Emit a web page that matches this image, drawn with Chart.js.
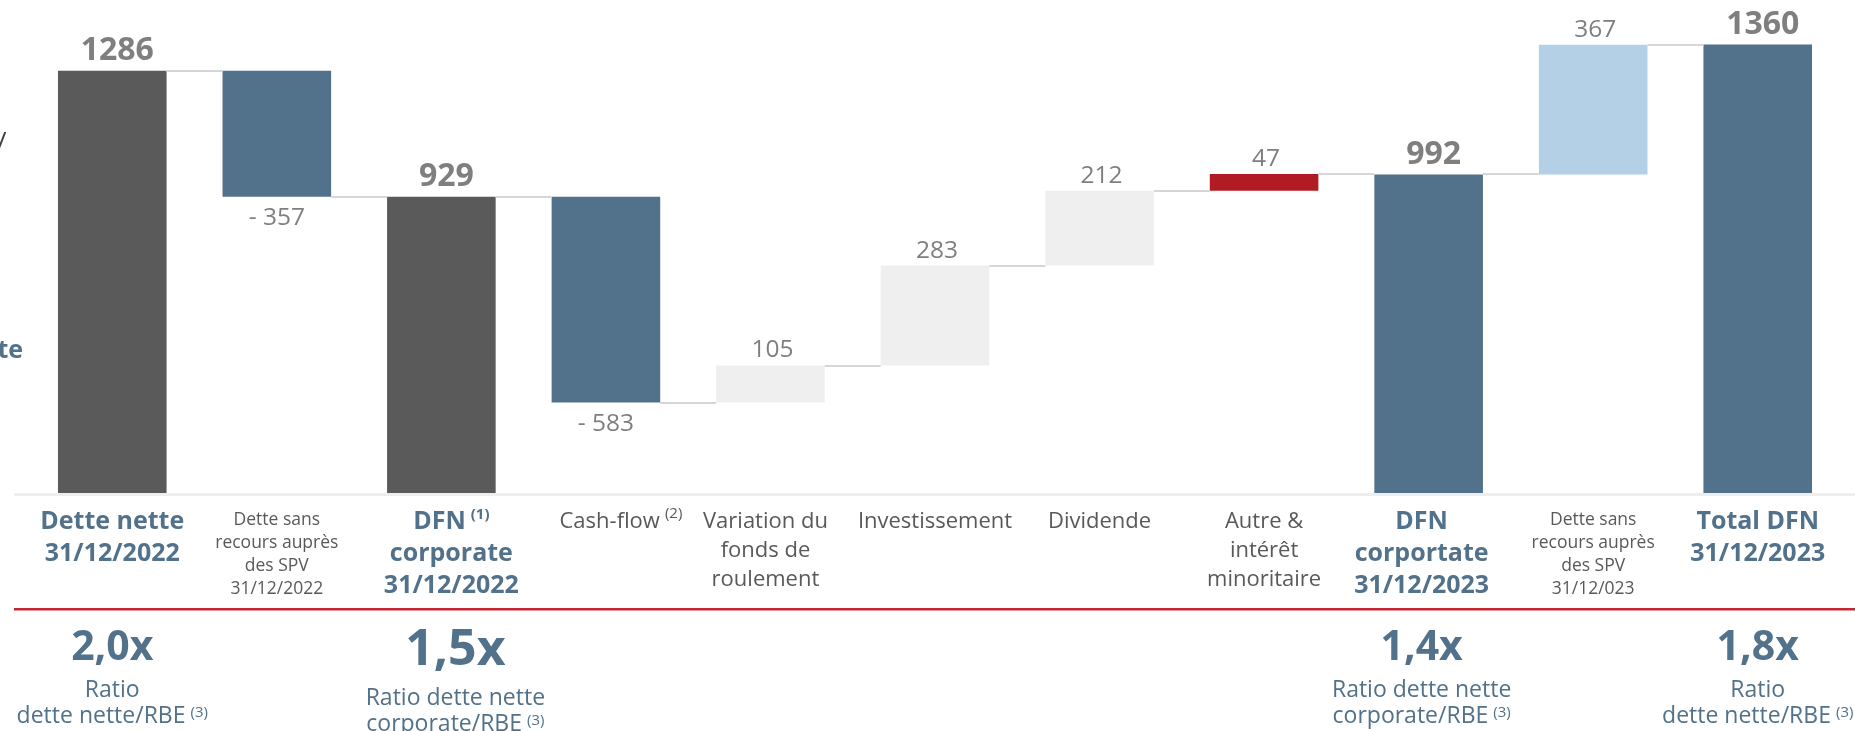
<!DOCTYPE html>
<html>
<head>
<meta charset="utf-8">
<title>Evolution de la dette financière nette</title>
<script src="https://cdn.jsdelivr.net/npm/chart.js@4.4.1/dist/chart.umd.min.js"></script>
<style>
  body { margin: 0; background: #fff; }
  #wrap { width: 1855px; height: 731px; position: relative; }
</style>
</head>
<body>
<div id="wrap"><canvas id="myChart"></canvas></div>
<script>
// data (M€)
const categories = [
  ['Dette nette', '31/12/2022'],
  ['Dette sans', 'recours auprès', 'des SPV', '31/12/2022'],
  ['DFN', 'corporate', '31/12/2022'],
  ['Cash-flow'],
  ['Variation du', 'fonds de', 'roulement'],
  ['Investissement'],
  ['Dividende'],
  ['Autre &', 'intérêt', 'minoritaire'],
  ['DFN', 'corportate', '31/12/2023'],
  ['Dette sans', 'recours auprès', 'des SPV', '31/12/023'],
  ['Total DFN', '31/12/2023']
]
const notes = ['', '', '(1)', '(2)', '', '', '', '', '', '', '']
const values = [1286, -357, 929, -583, 105, 283, 212, 47, 992, 367, 1360]
const totals = [true, false, true, false, false, false, false, false, true, false, true]

const ratioCols = [0, 2, 8, 10]
const ratioValues = ['2,0x', '1,5x', '1,4x', '1,8x']
const ratioLines = [
  ['Ratio', 'dette nette/RBE'],
  ['Ratio dette nette', 'corporate/RBE'],
  ['Ratio dette nette', 'corporate/RBE'],
  ['Ratio', 'dette nette/RBE']
]
const ratioNote = '(3)'

// styles
const barColors = ['#5a5a5a', '#52718a', '#5a5a5a', '#52718a', '#efefef', '#efefef', '#efefef', '#b11c24', '#52718a', '#b3d0e7', '#52718a']
const labelKind = ['bold', 'small', 'bold', 'flow', 'flow', 'flow', 'flow', 'flow', 'bold', 'small', 'bold']
const labelShift = [0, 0, 10, 15, -5, 0, 0, 0, -7, 0, 0]
const ratioShift = [0, 14, -7, 0]
const blue = '#52718a'
const grey = '#595959'
const FONT = '"Open Sans", "Noto Sans", sans-serif'

// build the floating bars of the waterfall
let run = 0
const ranges = []
const levels = []
values.forEach((v, i) => {
  if (totals[i]) {
    ranges.push([0, v])
    run = v
  } else {
    ranges.push([run, run + v])
    run += v
  }
  levels.push(run)
})

function drawLine(ctx, text, note, cx, cy, size, weight, color, noteSize, noteRaise) {
  ctx.font = weight + ' ' + size + 'px ' + FONT
  const w1 = ctx.measureText(text).width
  let w2 = 0
  const gap = note ? 5 : 0
  if (note) {
    ctx.font = weight + ' ' + noteSize + 'px ' + FONT
    w2 = ctx.measureText(note).width
  }
  const start = cx - (w1 + gap + w2) / 2
  ctx.fillStyle = color
  ctx.textAlign = 'left'
  ctx.textBaseline = 'middle'
  ctx.font = weight + ' ' + size + 'px ' + FONT
  ctx.fillText(text, start, cy)
  if (note) {
    ctx.font = weight + ' ' + noteSize + 'px ' + FONT
    ctx.fillText(note, start + w1 + gap, cy - noteRaise)
  }
}

const waterfallDeco = {
  id: 'waterfallDeco',
  afterDatasetsDraw(chart) {
    const ctx = chart.ctx
    const y = chart.scales.y
    const bars = chart.getDatasetMeta(0).data
    ctx.save()

    // axis line
    ctx.fillStyle = '#eeeeee'
    ctx.fillRect(14, chart.chartArea.bottom, chart.width - 14, 3)

    // connectors between bars
    ctx.strokeStyle = '#d6d6d6'
    ctx.lineWidth = 2
    for (let i = 0; i < bars.length - 1; i++) {
      const yy = Math.round(y.getPixelForValue(levels[i]))
      ctx.beginPath()
      ctx.moveTo(bars[i].x + bars[i].width / 2, yy)
      ctx.lineTo(bars[i + 1].x - bars[i + 1].width / 2, yy)
      ctx.stroke()
    }

    // value labels
    ctx.textAlign = 'center'
    ctx.textBaseline = 'middle'
    ctx.fillStyle = '#7f7f7f'
    values.forEach((v, i) => {
      const top = y.getPixelForValue(Math.max(ranges[i][0], ranges[i][1]))
      const bottom = y.getPixelForValue(Math.min(ranges[i][0], ranges[i][1]))
      if (totals[i]) {
        ctx.font = 'bold 32px ' + FONT
        ctx.fillText(String(v), bars[i].x + 5, top - 20)
      } else if (v < 0) {
        ctx.font = '24.5px ' + FONT
        ctx.fillText('- ' + Math.abs(v), bars[i].x, bottom + 21)
      } else {
        ctx.font = '24.5px ' + FONT
        ctx.fillText(String(v), bars[i].x + 2, top - 15)
      }
    })
    ctx.restore()
  },
  afterDraw(chart) {
    const ctx = chart.ctx
    const x = chart.scales.x
    ctx.save()

    // category labels
    categories.forEach((lines, i) => {
      const cx = x.getPixelForValue(i) + labelShift[i]
      const kind = labelKind[i]
      lines.forEach((t, j) => {
        const note = j === 0 ? notes[i] : ''
        if (kind === 'bold') {
          drawLine(ctx, t, note, cx, 522 + j * 32, 25, 'bold', blue, 15, 7)
        } else if (kind === 'small') {
          drawLine(ctx, t, note, cx, 520 + j * 23, 17.5, 'normal', grey, 12, 6)
        } else {
          drawLine(ctx, t, note, cx, 522 + j * 29, 22, 'normal', grey, 15, 8)
        }
      })
    })

    // red separator
    ctx.fillStyle = '#c2262e'
    ctx.fillRect(14, 608, chart.width - 14, 2.5)

    // leverage ratios
    ratioCols.forEach((col, k) => {
      const cx = x.getPixelForValue(col) + ratioShift[k]
      const big = k === 1
      ctx.fillStyle = blue
      ctx.textAlign = 'center'
      ctx.textBaseline = 'middle'
      ctx.font = 'bold ' + (big ? 50 : 41) + 'px ' + FONT
      ctx.fillText(ratioValues[k], cx, big ? 651 : 648)
      const y0 = big ? 698 : 690
      ratioLines[k].forEach((t, j) => {
        const note = j === ratioLines[k].length - 1 ? ratioNote : ''
        drawLine(ctx, t, note, cx, y0 + j * 26, 23, 'normal', blue, 15, 3)
      })
    })

    // clipped text from the slide edge
    ctx.textBaseline = 'middle'
    ctx.textAlign = 'right'
    ctx.fillStyle = blue
    ctx.font = 'bold 25px ' + FONT
    ctx.fillText('te', 23, 351)
    ctx.textAlign = 'left'
    ctx.fillStyle = '#404040'
    ctx.font = '26px ' + FONT
    ctx.fillText('/', -3, 143)
    ctx.restore()
  }
}

const ctx = document.getElementById('myChart')
new Chart(ctx, {
  type: 'bar',
  data: {
    labels: categories,
    datasets: [{
      data: ranges,
      backgroundColor: barColors,
      borderWidth: 0,
      barPercentage: 0.66,
      categoryPercentage: 1
    }]
  },
  options: {
    responsive: true,
    maintainAspectRatio: false,
    animation: false,
    devicePixelRatio: 1,
    layout: { padding: { left: 30, right: 15, top: 0, bottom: 238 } },
    plugins: {
      legend: { display: false },
      tooltip: { enabled: false }
    },
    scales: {
      x: { display: false },
      y: { display: false, min: 90, max: 1486 }
    }
  },
  plugins: [waterfallDeco]
})
</script>
</body>
</html>
